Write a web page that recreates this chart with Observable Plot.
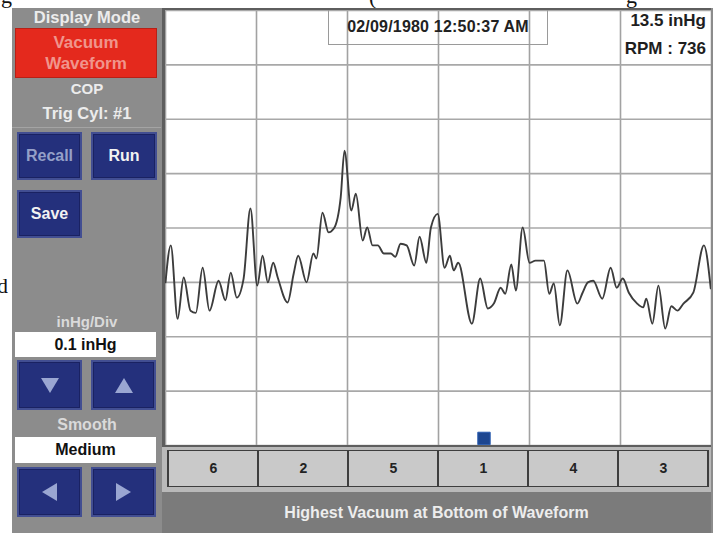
<!DOCTYPE html>
<html>
<head>
<meta charset="utf-8">
<script src="https://cdn.jsdelivr.net/npm/d3@7"></script>
<script src="https://cdn.jsdelivr.net/npm/@observablehq/plot@0.6"></script>
<style>
  html, body { margin: 0; padding: 0; background: #fff; }
  #page { position: relative; width: 713px; height: 533px; overflow: hidden; background: #fff;
          font-family: "Liberation Sans", Arial, sans-serif; }
  .abs { position: absolute; }
  .lbl { position: absolute; left: 12px; width: 150px; text-align: center; font-weight: bold; color: #ececec; white-space: nowrap; }
  .btn { position: absolute; box-sizing: border-box; background: #24307c; border: 2px solid #424e92;
         box-shadow: inset 0 0 0 1px #1a2262; color: #f2f2f2; font-weight: bold; font-size: 16px;
         display: flex; align-items: center; justify-content: center; }
  .wbox { position: absolute; left: 15px; width: 141px; background: #fff; color: #111; font-weight: bold;
          font-size: 16px; display: flex; align-items: center; justify-content: center; }
  .tri { width: 0; height: 0; }
</style>
</head>
<body>
<div id="page">
  <svg class="abs" style="left:0;top:0" width="713" height="533">
    <g font-family="'Liberation Serif', 'Times New Roman', serif" font-size="22" fill="#111">
      <text x="1" y="3">g</text>
      <text x="369" y="4">(</text>
      <text x="626" y="3">g</text>
      <text x="-3" y="293">d</text>
    </g>
  </svg>
  <div class="abs" style="left:12px;top:8px;width:701px;height:525px;background:#8c8c8c"></div>

  <!-- left control panel -->
  <div class="lbl" style="top:8px;font-size:16.5px;line-height:18px">Display Mode</div>
  <div class="abs" style="left:15px;top:28px;width:142px;height:50px;background:#e4291d;box-sizing:border-box;border:1px solid #b82016;
       color:#f0958c;font-weight:bold;font-size:17px;text-align:center;line-height:21px;padding-top:3px">Vacuum<br>Waveform</div>
  <div class="lbl" style="top:80px;font-size:15px;line-height:18px">COP</div>
  <div class="lbl" style="top:104px;font-size:16.5px;line-height:18px">Trig Cyl: #1</div>
  <div class="abs" style="left:12px;top:127px;width:149px;height:1px;background:#a4a4a4"></div>
  <div class="btn" style="left:17px;top:132px;width:65px;height:48px;color:#95a0c8">Recall</div>
  <div class="btn" style="left:91px;top:132px;width:66px;height:48px">Run</div>
  <div class="btn" style="left:17px;top:190px;width:65px;height:48px">Save</div>

  <div class="lbl" style="top:313px;font-size:15px;line-height:18px;color:#dadada">inHg/Div</div>
  <div class="wbox" style="top:332px;height:25px">0.1 inHg</div>
  <div class="btn" style="left:17px;top:360px;width:65px;height:50px">
    <div class="tri" style="border-left:9px solid transparent;border-right:9px solid transparent;border-top:15px solid #9aa6d2"></div></div>
  <div class="btn" style="left:91px;top:360px;width:65px;height:50px">
    <div class="tri" style="border-left:9px solid transparent;border-right:9px solid transparent;border-bottom:15px solid #9aa6d2"></div></div>

  <div class="lbl" style="top:416px;font-size:16px;line-height:18px;color:#dadada">Smooth</div>
  <div class="wbox" style="top:437px;height:26px">Medium</div>
  <div class="btn" style="left:17px;top:467px;width:65px;height:50px">
    <div class="tri" style="border-top:9px solid transparent;border-bottom:9px solid transparent;border-right:15px solid #9aa6d2"></div></div>
  <div class="btn" style="left:91px;top:467px;width:65px;height:50px">
    <div class="tri" style="border-top:9px solid transparent;border-bottom:9px solid transparent;border-left:15px solid #9aa6d2"></div></div>

  <!-- waveform area -->
  <div class="abs" style="left:162px;top:8px;width:549px;height:439px;background:#5e5e5e"></div>
  <div id="wave" class="abs" style="left:165px;top:10px;width:546px;height:435px;background:#fff"></div>
  <div class="abs" style="left:328px;top:10px;width:220px;height:35px;box-sizing:border-box;border:1.5px solid #9a9a9a;border-top:none;
       font-weight:bold;font-size:16px;letter-spacing:0.2px;color:#222;display:flex;align-items:center;justify-content:center">02/09/1980 12:50:37 AM</div>
  <div class="abs" style="right:7px;top:7px;font-weight:bold;font-size:17px;color:#1e1e1e;text-align:right;line-height:28px">13.5 inHg<br>RPM : 736</div>

  <!-- cylinder strip -->
  <div class="abs" style="left:162px;top:447px;width:549px;height:45px;background:#b9b9b9"></div>
  <div id="cyl" class="abs" style="left:166px;top:450px;width:544px;height:37px"></div>
  <div class="abs" style="left:162px;top:492px;width:549px;height:41px;background:#7b7b7b;color:#ededed;font-weight:bold;font-size:16px;
       display:flex;align-items:center;justify-content:center">Highest Vacuum at Bottom of Waveform</div>
</div>

<script>
// Crank angle (degrees, 0-720 over one engine cycle) and relative vacuum (inHg, 0.1 inHg per division)
const crankDeg = [0,7,16,24,33,40,49,58,70,79,
  86,94,103,112,121,128,135,142,148,161,
  169,175,186,195,199,207,215,222,231,236,
  245,251,260,266,273,280,288,297,303,310,
  318,328,335,344,350,359,368,375,380,386,
  404,415,425,433,442,448,456,462,471,480,
  488,499,506,512,520,530,543,550,557,564,
  576,587,595,603,611,622,630,634,642,650,
  659,667,675,683,696,710,719];
const vacuumInHg = [0.300,0.368,0.233,0.309,0.248,0.244,0.327,0.248,0.303,0.267,
  0.318,0.272,0.307,0.436,0.294,0.349,0.300,0.336,0.309,0.263,
  0.316,0.349,0.300,0.353,0.344,0.428,0.392,0.399,0.456,0.542,
  0.432,0.463,0.377,0.401,0.368,0.368,0.353,0.353,0.347,0.371,
  0.368,0.331,0.384,0.336,0.401,0.426,0.327,0.349,0.322,0.336,
  0.224,0.307,0.252,0.261,0.290,0.279,0.333,0.285,0.401,0.336,
  0.340,0.340,0.279,0.298,0.221,0.322,0.261,0.281,0.300,0.303,
  0.270,0.327,0.290,0.307,0.281,0.261,0.254,0.270,0.224,0.294,
  0.215,0.256,0.248,0.261,0.281,0.368,0.289];
const xGridTicks = [0,120,240,360,480,600,720];
const yGridTicks = [0,0.1,0.2,0.3,0.4,0.5,0.6,0.7,0.8];
const firingOrder = ["6","2","5","1","4","3"];
const triggerDeg = [420];
const triggerVac = [0.013];

const wave = crankDeg.map((d, i) => ({deg: d, vac: vacuumInHg[i]}));
const trigger = triggerDeg.map((d, i) => ({deg: d, vac: triggerVac[i]}));

const chart = Plot.plot({
  width: 546, height: 435, margin: 0,
  style: {background: "#fff"},
  x: {domain: [0, 720], axis: null},
  y: {domain: [0, 0.8], axis: null},
  marks: [
    Plot.gridX(xGridTicks, {stroke: "#a2a2a2", strokeOpacity: 1, strokeWidth: 1.6}),
    Plot.gridY(yGridTicks, {stroke: "#a8a8a8", strokeOpacity: 1, strokeWidth: 1.6}),
    Plot.line(wave, {x: "deg", y: "vac", stroke: "#3c3c3c", strokeWidth: 1.9, curve: "monotone-x"}),
    Plot.dot(trigger, {x: "deg", y: "vac", symbol: "square", r: 7, fill: "#1d4690", stroke: "#2a5cb0", strokeWidth: 1})
  ]
});
document.getElementById("wave").appendChild(chart);

const cyl = Plot.plot({
  width: 544, height: 37, margin: 0,
  style: {background: "transparent"},
  x: {type: "band", domain: firingOrder, padding: 0, axis: null},
  marks: [
    Plot.cell(firingOrder, {x: d => d, fill: "#c9c9c9", stroke: "#3e3e3e", strokeWidth: 2}),
    Plot.text(firingOrder, {x: d => d, text: d => d, fontSize: 14, fontWeight: "bold", fill: "#222",
      fontFamily: "Liberation Sans, Arial, sans-serif"})
  ]
});
document.getElementById("cyl").appendChild(cyl);
</script>
</body>
</html>
